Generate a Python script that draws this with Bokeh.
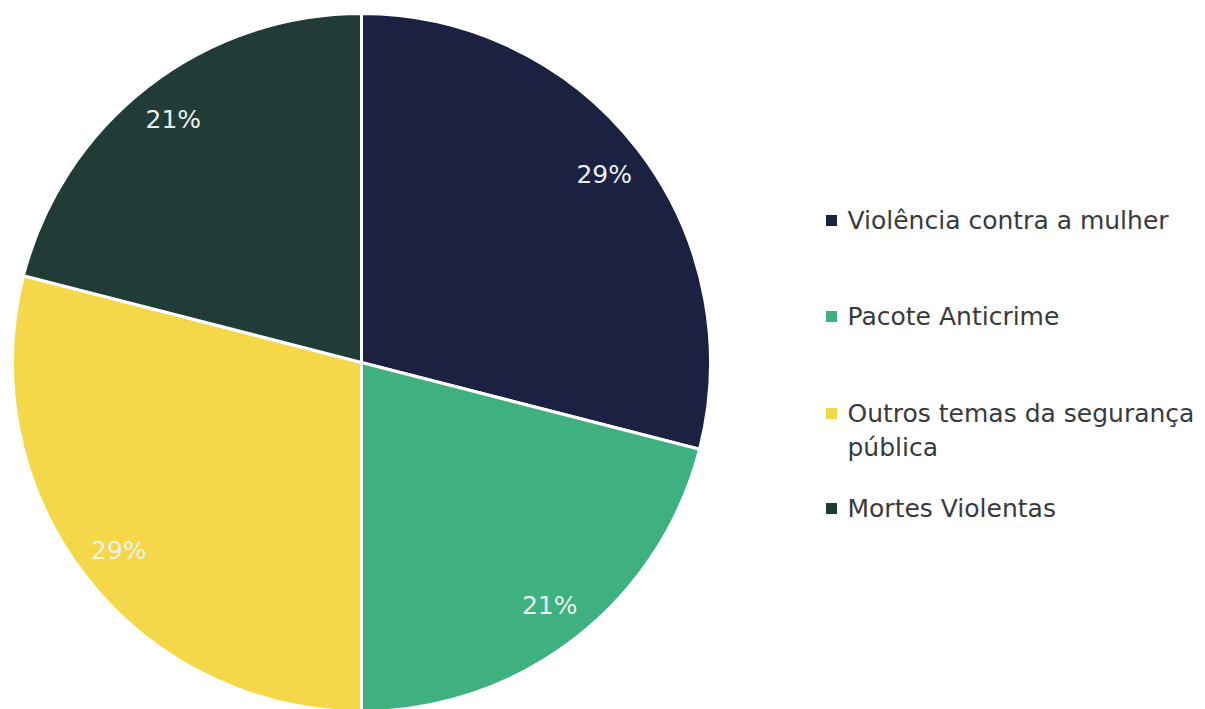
import math
from bokeh.plotting import figure
from bokeh.models import Range1d
from bokeh.core.properties import value
from bokeh.embed import file_html
from bokeh.resources import INLINE

categories = ["Violência contra a mulher", "Pacote Anticrime",
              "Outros temas da segurança\npública", "Mortes Violentas"]
percents = [29, 21, 29, 21]
colors = ["#1b2140", "#3fb07f", "#f4d84a", "#213b37"]
labels = [f"{v}%" for v in percents]

W, H = 1205, 709
p = figure(width=W, height=H, output_backend="svg", toolbar_location=None,
           x_range=Range1d(0, W), y_range=Range1d(0, H), min_border=0)
p.axis.visible = False
p.grid.visible = False
p.outline_line_color = None
p.background_fill_color = "white"
p.border_fill_color = "white"

cx, cy, R = 361, H - 362, 349
total = sum(percents)
starts, ends, lx, ly = [], [], [], []
acc = 0
for v in percents:
    a0 = math.pi / 2 - 2 * math.pi * acc / total
    acc += v
    a1 = math.pi / 2 - 2 * math.pi * acc / total
    starts.append(a0)
    ends.append(a1)
    mid = (a0 + a1) / 2
    lx.append(cx + 0.88 * R * math.cos(mid))
    ly.append(cy + 0.88 * R * math.sin(mid))

p.wedge(x=cx, y=cy, radius=R, start_angle=starts, end_angle=ends,
        direction="clock", fill_color=colors, line_color="white", line_width=3)

p.text(x=lx, y=ly, text=labels, text_align="center", text_baseline="middle",
       text_color="#eaf0f2", text_font=value("DejaVu Sans"), text_font_size="25px")

# Legend (screen y of each entry's first line)
leg_y = [220, 316, 413, 508]
p.scatter(x=[831] * 4, y=[H - y for y in leg_y], marker="square", size=11,
          fill_color=colors, line_color=None)
p.text(x=[847] * 4, y=[H - (y - 15) for y in leg_y], text=categories,
       text_align="left", text_baseline="top",
       text_color="#3a3a3a", text_font=value("DejaVu Sans"), text_font_size="25px",
       text_line_height=1.2)

open("out.html", "w").write(file_html(p, INLINE))
